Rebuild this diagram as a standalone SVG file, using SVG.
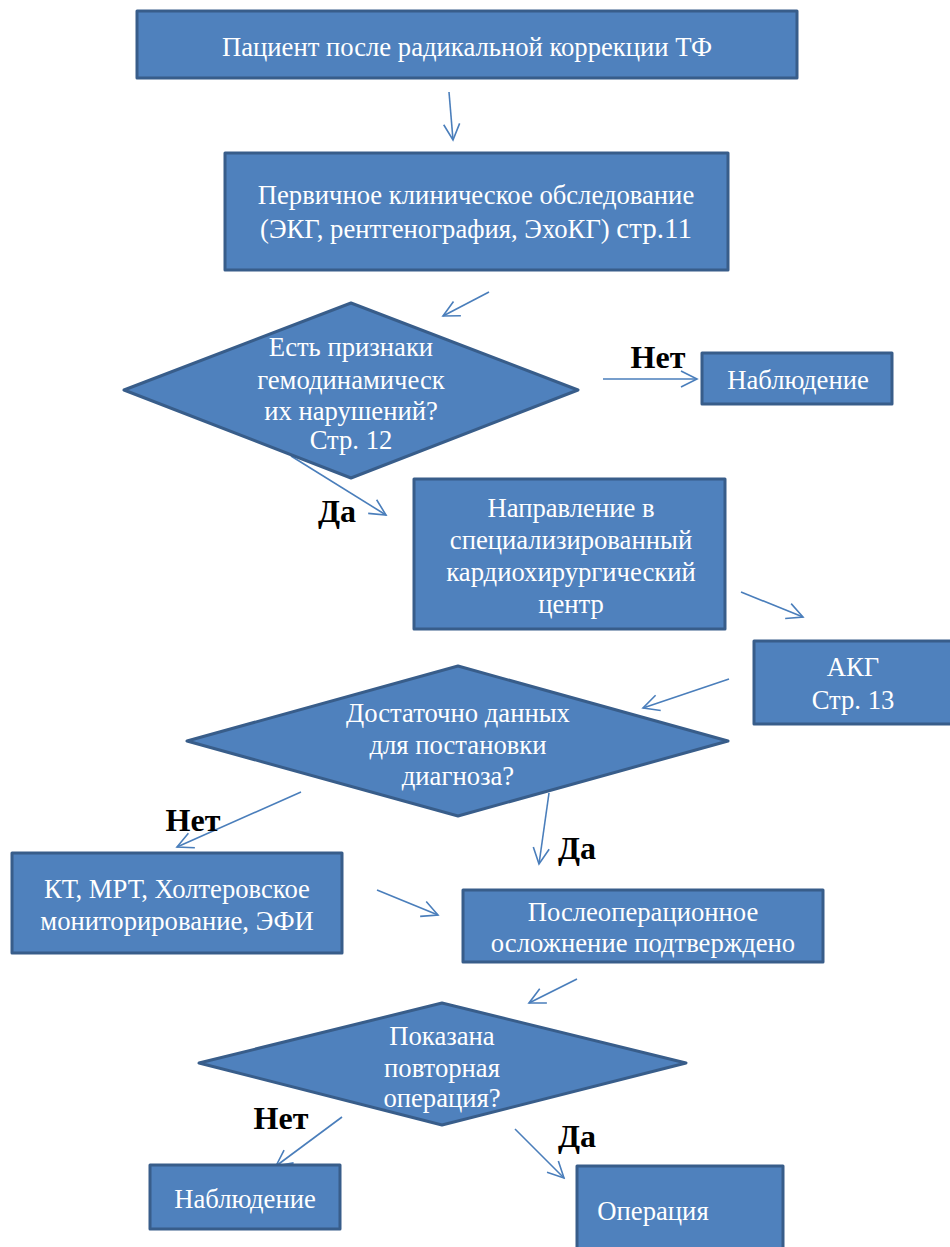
<svg xmlns="http://www.w3.org/2000/svg" width="950" height="1247" viewBox="0 0 950 1247">
<defs>
<marker id="ah" viewBox="0 0 20 20" refX="18" refY="10" markerWidth="20" markerHeight="20" markerUnits="userSpaceOnUse" orient="auto">
<path d="M2,2 L18,10 L2,18" fill="none" stroke="#4A7EBB" stroke-width="1.6"/>
</marker>
<style>
.n{fill:#4F81BD;stroke:#385D8A;stroke-width:3;stroke-linejoin:round}
.t{font-family:'Liberation Serif','Times New Roman',serif;font-size:26.67px;fill:#FFFFFF;text-anchor:middle}
.l{font-family:'Liberation Serif','Times New Roman',serif;font-size:32px;font-weight:bold;fill:#000;text-anchor:middle}
.c line{stroke:#4A7EBB;stroke-width:1.6;marker-end:url(#ah)}
</style>
</defs>
<rect width="950" height="1247" fill="#FFFFFF"/>
<g class="c" id="connectors">
<line x1="449" y1="92" x2="453" y2="140"/>
<line x1="489" y1="292" x2="443" y2="316"/>
<line x1="603" y1="379" x2="697" y2="379"/>
<line x1="291" y1="456" x2="386" y2="515"/>
<line x1="741" y1="592" x2="803" y2="617"/>
<line x1="729" y1="679" x2="643" y2="708"/>
<line x1="301" y1="792" x2="177" y2="847"/>
<line x1="549" y1="793" x2="539" y2="864"/>
<line x1="377" y1="890" x2="438" y2="915"/>
<line x1="577" y1="979" x2="529" y2="1003"/>
<line x1="342" y1="1117" x2="276" y2="1166"/>
<line x1="515" y1="1129" x2="564" y2="1178"/>
</g>
<g id="n1"><rect class="n" x="137" y="11" width="660" height="67"/><text class="t" x="467" y="56">Пациент после радикальной коррекции ТФ</text></g>
<g id="n2"><rect class="n" x="225" y="153" width="503" height="117"/><text class="t" x="476" y="204">Первичное клиническое обследование</text><text class="t" x="476" y="238">(ЭКГ, рентгенография, ЭхоКГ) <tspan font-size="29px">стр.11</tspan></text></g>
<g id="d1"><polygon class="n" points="124,390 351,303 578,390 351,478"/><text class="t" x="351" y="356">Есть признаки</text><text class="t" x="351" y="389">гемодинамическ</text><text class="t" x="351" y="420">их нарушений?</text><text class="t" x="351" y="449">Стр. 12</text></g>
<g id="n3"><rect class="n" x="702" y="353" width="190" height="51"/><text class="t" x="798" y="389">Наблюдение</text></g>
<g id="n4"><rect class="n" x="414" y="479" width="311" height="150"/><text class="t" x="571" y="517">Направление в</text><text class="t" x="571" y="549">специализированный</text><text class="t" x="571" y="581">кардиохирургический</text><text class="t" x="571" y="613">центр</text></g>
<g id="n5"><rect class="n" x="754" y="641" width="200" height="83"/><text class="t" x="853" y="676">АКГ</text><text class="t" x="853" y="709">Стр. 13</text></g>
<g id="d2"><polygon class="n" points="187,741 458,666 728,741 458,816"/><text class="t" x="458" y="722">Достаточно данных</text><text class="t" x="458" y="754">для постановки</text><text class="t" x="458" y="785">диагноза?</text></g>
<g id="n6"><rect class="n" x="12" y="853" width="330" height="100"/><text class="t" x="177" y="898">КТ, МРТ, Холтеровское</text><text class="t" x="177" y="930">мониторирование, ЭФИ</text></g>
<g id="n7"><rect class="n" x="463" y="890" width="360" height="72"/><text class="t" x="643" y="921">Послеоперационное</text><text class="t" x="643" y="952">осложнение подтверждено</text></g>
<g id="d3"><polygon class="n" points="199,1063 442,1003 686,1063 442,1125"/><text class="t" x="442" y="1045">Показана</text><text class="t" x="442" y="1077">повторная</text><text class="t" x="442" y="1107">операция?</text></g>
<g id="n8"><rect class="n" x="150" y="1165" width="190" height="64"/><text class="t" x="245" y="1208">Наблюдение</text></g>
<g id="n9"><rect class="n" x="577" y="1166" width="206" height="90"/><text class="t" x="653" y="1220">Операция</text></g>
<g id="labels">
<text class="l" x="658" y="368" font-size="30px">Нет</text>
<text class="l" x="337" y="522">Да</text>
<text class="l" x="193" y="831" font-size="30px">Нет</text>
<text class="l" x="577" y="859">Да</text>
<text class="l" x="281" y="1129" font-size="30px">Нет</text>
<text class="l" x="577" y="1147">Да</text>
</g>
</svg>
